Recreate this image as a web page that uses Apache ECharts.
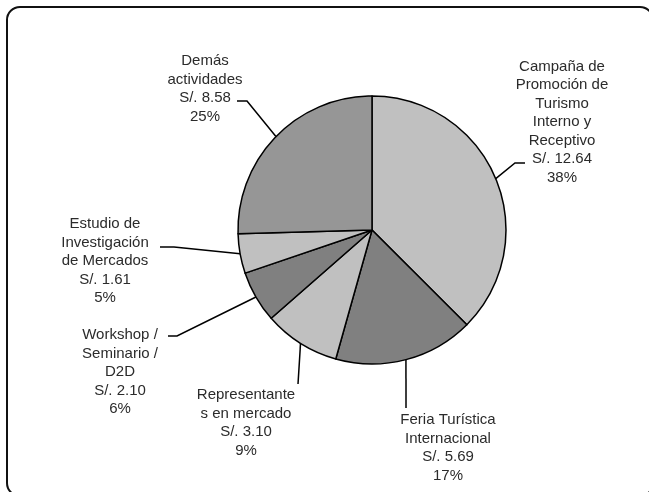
<!DOCTYPE html>
<html>
<head>
    <meta charset="utf-8">
    <title>Presupuesto de promoción</title>
    <style>
        html, body { margin: 0; padding: 0; background-color: #fff; }
        #charts { width: 649px; height: 492px; }
    </style>
</head>
<body>
  <div class="charts" id="charts"></div>
</body>
<script type="text/javascript" src="https://cdn.jsdelivr.net/npm/echarts@6/dist/echarts.min.js"></script>
<script type="text/javascript">

var categories = [
    'Campaña de\nPromoción de\nTurismo\nInterno y\nReceptivo',
    'Feria Turística\nInternacional',
    'Representante\ns en mercado',
    'Workshop /\nSeminario /\nD2D',
    'Estudio de\nInvestigación\nde Mercados',
    'Demás\nactividades'
];
var montos = [12.64, 5.69, 3.10, 2.10, 1.61, 8.58];   // millones S/.
var colores = ['#c0c0c0', '#808080', '#c0c0c0', '#808080', '#c0c0c0', '#969696'];

// ubicacion de cada etiqueta (centro del texto) y quiebres de su linea guia
var etiquetas = [
    { x: 562, y: 122, linea: [[515, 163], [525, 163]] },
    { x: 448, y: 448, linea: [[406, 408]] },
    { x: 246, y: 423, linea: [[298, 384]] },
    { x: 120, y: 372, linea: [[177, 336], [168, 336]] },
    { x: 105, y: 261, linea: [[174, 247], [160, 247]] },
    { x: 205, y: 89,  linea: [[247, 101], [237, 101]] }
];

var datos = [];
for (var i = 0; i < categories.length; i++) {
    datos.push({
        name: categories[i],
        value: montos[i],
        itemStyle: { color: colores[i] }
    });
}

var myChart = echarts.init(document.getElementById('charts'));

var option = {
    animation: false,
    // marco redondeado (se sale por la derecha y por abajo)
    graphic: [{
        type: 'rect',
        shape: { x: 7, y: 7, width: 646, height: 489, r: 13 },
        style: { fill: 'none', stroke: '#111', lineWidth: 2 },
        silent: true
    }],
    series: [{
        type: 'pie',
        center: [372, 230],
        radius: 134,
        startAngle: 90,
        clockwise: true,
        percentPrecision: 0,
        avoidLabelOverlap: false,
        data: datos,
        itemStyle: {
            borderColor: '#000',
            borderWidth: 1.5
        },
        emphasis: { disabled: true },
        label: {
            show: true,
            position: 'outside',
            fontFamily: 'Liberation Sans, Arial, sans-serif',
            fontSize: 15,
            lineHeight: 18.5,
            color: '#2b2b2b',
            align: 'center',
            formatter: function (p) {
                return p.name + '\nS/. ' + p.value.toFixed(2) + '\n' + p.percent + '%';
            }
        },
        labelLine: {
            show: true,
            length: 15,
            length2: 10,
            lineStyle: { color: '#000', width: 1.5 }
        },
        labelLayout: function (params) {
            var e = etiquetas[params.dataIndex];
            var inicio = params.labelLinePoints ? params.labelLinePoints[0] : null;
            var puntos = inicio ? [inicio].concat(e.linea) : undefined;
            return {
                x: e.x,
                y: e.y,
                align: 'center',
                verticalAlign: 'middle',
                labelLinePoints: puntos
            };
        }
    }]
};

myChart.setOption(option);
</script>
</html>
